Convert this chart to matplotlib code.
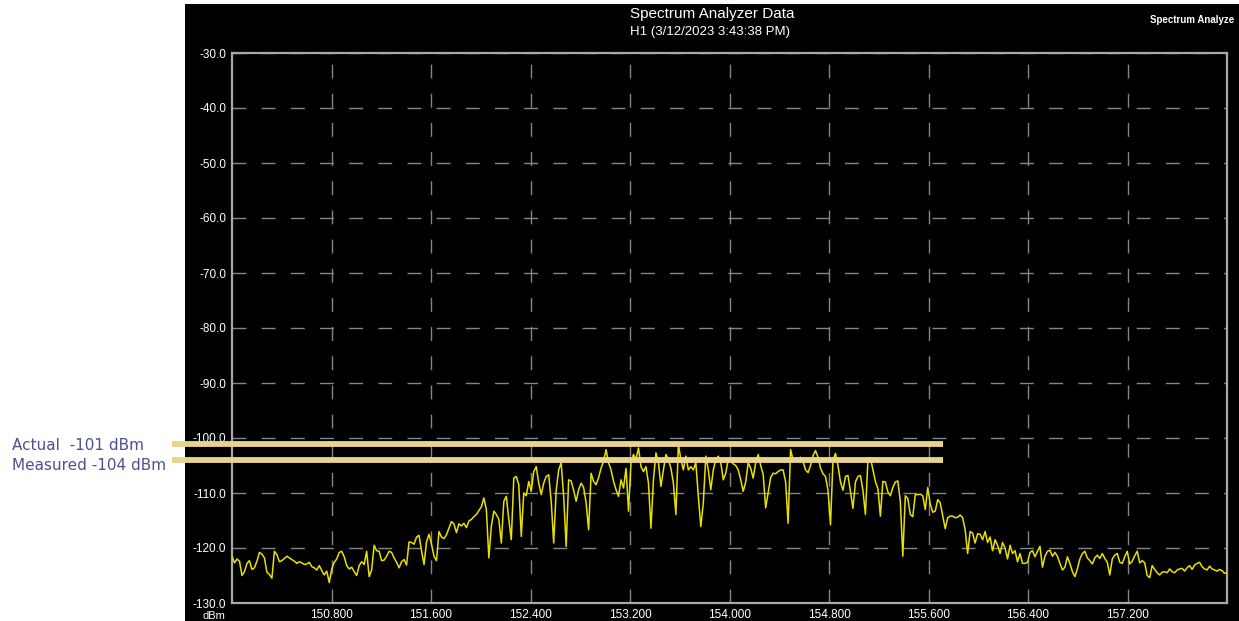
import numpy as np
from matplotlib import pyplot as plt
from matplotlib.patches import Rectangle

# sweep 150-158 MHz, levels in dBm (50 points per MHz)
level_dbm = [
    # 150 MHz
    -121.5, -122.7, -122.0, -122.4, -125.0, -124.3, -122.8, -122.3, -123.9, -123.6,
    -122.4, -120.8, -121.1, -121.8, -124.4, -124.8, -125.5, -120.6, -121.2, -122.5,
    -122.3, -121.9, -121.5, -121.8, -122.1, -122.4, -122.8, -122.5, -122.7, -123.0,
    -122.9, -122.6, -123.4, -123.6, -124.0, -123.2, -124.1, -124.9, -124.2, -126.3,
    -123.8, -122.6, -122.0, -120.8, -120.6, -121.6, -123.2, -123.8, -123.5, -124.3,
    # 151 MHz
    -125.0, -123.2, -122.5, -123.0, -120.6, -125.2, -124.0, -119.5, -120.5, -120.6,
    -122.3, -122.2, -121.5, -120.6, -120.8, -121.8, -122.6, -123.6, -122.5, -122.1,
    -123.1, -118.9, -119.0, -119.3, -118.0, -117.7, -120.5, -123.0, -118.9, -117.5,
    -119.3, -121.5, -122.3, -117.0, -118.0, -118.3, -117.6, -116.4, -115.2, -115.6,
    -117.2, -115.6, -116.0, -115.5, -116.3, -115.1, -114.8, -114.3, -113.9, -113.2,
    # 152 MHz
    -112.5, -110.9, -113.0, -121.8, -116.0, -113.3, -113.9, -114.8, -119.1, -111.5,
    -110.6, -114.8, -118.5, -107.3, -107.0, -108.5, -117.9, -110.0, -110.5, -107.9,
    -109.7, -106.1, -105.2, -108.2, -110.3, -108.2, -107.0, -106.7, -111.5, -119.1,
    -109.5, -105.8, -104.5, -110.6, -119.7, -107.6, -107.8, -109.5, -111.5, -109.4,
    -108.2, -109.0, -111.8, -116.7, -106.4, -107.9, -108.5, -107.2, -105.5, -104.2,
    # 153 MHz
    -102.1, -104.5, -105.8, -107.9, -109.4, -110.6, -107.6, -109.1, -105.5, -113.3,
    -104.5, -103.0, -103.9, -101.8, -105.2, -106.1, -105.2, -108.2, -116.4, -107.6,
    -102.7, -104.5, -108.8, -105.8, -103.0, -103.9, -105.5, -108.2, -113.9, -101.2,
    -103.9, -105.8, -103.3, -105.8, -105.2, -105.8, -104.5, -110.6, -116.1, -111.8,
    -103.3, -105.8, -109.4, -105.8, -103.9, -103.3, -104.5, -107.6, -106.4, -103.9,
    # 154 MHz
    -104.2, -104.7, -105.0, -105.8, -107.6, -109.7, -108.0, -104.5, -105.5, -107.3,
    -104.5, -103.0, -105.0, -106.6, -112.7, -110.0, -107.2, -106.4, -106.5, -106.1,
    -105.8, -105.8, -108.0, -115.5, -102.1, -104.0, -104.3, -103.9, -103.5, -104.3,
    -105.8, -106.3, -105.0, -103.2, -102.3, -103.5, -105.5, -106.5, -107.0, -109.5,
    -115.8, -104.0, -102.8, -105.0, -108.0, -109.5, -107.0, -106.8, -109.7, -112.8,
    # 155 MHz
    -108.0, -107.0, -106.8, -109.5, -113.9, -104.0, -103.6, -105.8, -107.9, -109.2,
    -114.2, -107.9, -108.0, -109.8, -110.5, -109.0, -108.0, -107.8, -111.5, -121.5,
    -110.5, -111.0, -113.9, -114.3, -110.3, -110.3, -110.2, -110.5, -113.0, -109.0,
    -112.0, -113.5, -113.3, -111.2, -111.8, -114.2, -116.5, -114.5, -114.2, -114.2,
    -114.5, -114.4, -114.0, -114.5, -116.7, -121.0, -117.0, -117.3, -119.1, -117.4,
    # 156 MHz
    -117.5, -118.5, -117.0, -119.0, -118.0, -120.5, -118.5, -119.5, -121.0, -119.0,
    -120.0, -122.0, -119.5, -121.0, -120.5, -122.5, -121.0, -122.8, -122.8, -122.6,
    -120.8, -120.5, -121.6, -120.6, -119.7, -123.5, -121.5, -120.6, -120.4, -121.5,
    -120.8, -121.5, -122.8, -124.0, -123.5, -121.6, -122.8, -124.3, -125.2, -123.8,
    -122.0, -121.0, -120.6, -121.8, -122.3, -122.9, -121.8, -121.3, -121.9, -121.0,
    # 157 MHz
    -121.9, -122.6, -124.9, -122.0, -121.3, -121.0, -122.6, -122.8, -121.6, -120.6,
    -122.9, -122.4, -121.4, -120.6, -122.7, -122.3, -122.7, -125.0, -125.4, -123.2,
    -123.9, -124.5, -124.9, -124.4, -124.3, -124.5, -123.8, -124.3, -124.5, -124.0,
    -123.8, -123.7, -124.2, -123.6, -123.2, -123.9, -123.1, -122.8, -122.6, -123.4,
    -123.8, -124.0, -123.3, -123.8, -124.0, -124.2, -123.9, -124.1, -124.6, -124.5,
]
freq_start, freq_stop = 150.0, 158.0

freq_ticks = [150.8, 151.6, 152.4, 153.2, 154.0, 154.8, 155.6, 156.4, 157.2]
level_ticks = [-130, -120, -110, -100, -90, -80, -70, -60, -50, -40, -30]

marker_labels = ['Actual  -101 dBm', 'Measured -104 dBm']
marker_levels = [-101, -104]

W, H = 1239, 621
fig = plt.figure(figsize=(W / 100, H / 100), dpi=100)
fig.patch.set_facecolor('white')

# black instrument panel behind the plot
fig.patches.append(Rectangle((185 / W, 0), 1 - 185 / W, 1 - 4 / H,
                             transform=fig.transFigure, facecolor='black',
                             edgecolor='none', zorder=-1))

ax = fig.add_axes([232 / W, 18 / H, 995 / W, 550 / H])
ax.set_facecolor('black')
ax.set_zorder(1)

freq = np.linspace(freq_start, freq_stop, len(level_dbm))
ax.plot(freq, level_dbm, color='#e8e000', lw=1.1, zorder=3)

ax.set_xlim(freq_start, freq_stop)
ax.set_ylim(-130, -30)
ax.set_xticks(freq_ticks)
ax.set_xticklabels([f'{f:.3f}' for f in freq_ticks])
ax.set_yticks(level_ticks)
ax.set_yticklabels([f'{v:.1f}' for v in level_ticks])
ax.tick_params(length=0, colors='white', labelsize=8.5, pad=4)
for lab in ax.get_xticklabels() + ax.get_yticklabels():
    lab.set_family('Liberation Sans')

for s in ax.spines.values():
    s.set_color('#a8a8a8')
    s.set_linewidth(1.6)

ax.grid(True, color='#858585', lw=1.0, dashes=(10, 11), zorder=1)

# reference level markers
for lvl in marker_levels:
    ax.plot([149.52, 155.72], [lvl, lvl], color='#e8d48c', lw=4.2,
            solid_capstyle='butt', clip_on=False, zorder=5)
for lab, y in zip(marker_labels, [445, 465]):
    fig.text(12 / W, 1 - y / H, lab, color='#4d518e', fontsize=11,
             family='DejaVu Sans', va='center', ha='left')

fig.text(712 / W, 1 - 14 / H, 'Spectrum Analyzer Data', color='white',
         fontsize=11, family='Liberation Sans', ha='center', va='center')
fig.text(710 / W, 1 - 32 / H, 'H1 (3/12/2023 3:43:38 PM)', color='white',
         fontsize=9.5, family='Liberation Sans', ha='center', va='center')
fig.text(1150 / W, 1 - 20 / H, 'Spectrum Analyze', color='white',
         fontsize=7, family='Liberation Sans', weight='bold',
         ha='left', va='center')
fig.text(214 / W, 1 - 616 / H, 'dBm', color='white', fontsize=8,
         family='Liberation Sans', ha='center', va='center')

fig.savefig('out.png', dpi=100)
